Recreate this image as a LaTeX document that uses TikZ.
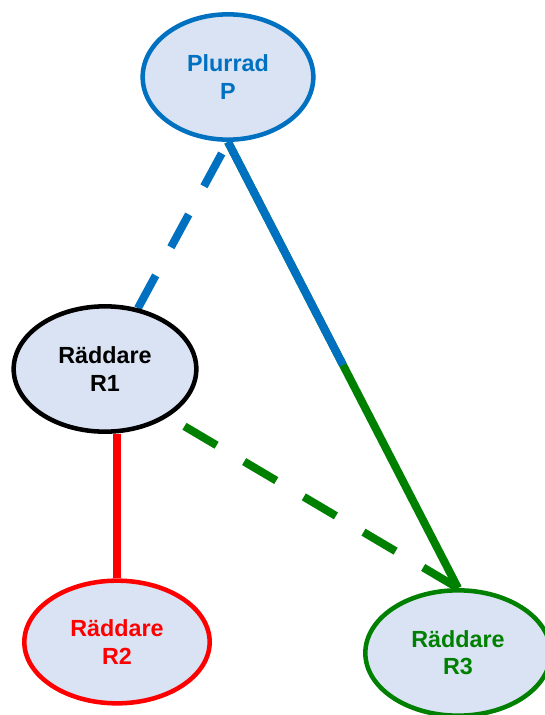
\documentclass[tikz,border=0pt]{standalone}
\usepackage{fontspec}
\setmainfont{Liberation Sans}
\usepackage{xcolor}
\usepackage{tikz}
\usetikzlibrary{shapes.geometric,backgrounds}

\definecolor{pblue}{HTML}{0070C0}
\definecolor{rgreen}{HTML}{008000}
\definecolor{boxfill}{HTML}{DAE3F3}

\begin{document}
\begin{tikzpicture}[x=0.75pt,y=-0.75pt,
            person/.style={ellipse, draw=#1, text=#1, line width=3.4pt, fill=boxfill, inner sep=0pt, align=center,
                font=\fontsize{17.5}{20.5}\selectfont\bfseries, minimum width=139pt, minimum height=94pt},
            link/.style={line width=6pt, draw=#1},
            dashlink/.style={link=#1, dash pattern=on 28pt off 24pt}
        ]

        \useasboundingbox (0,0) rectangle (544,715);

        \node[person=pblue, minimum width=128pt] (plurrad) at (228,77) {Plurrad\\P};
        \node[person=black, minimum width=137pt] (r1) at (105,369) {Räddare\\R1};
        \node[person=red, minimum height=92pt] (r2) at (117,642) {Räddare\\R2};
        \node[person=rgreen] (r3) at (458,653) {Räddare\\R3};

        \begin{scope}[on background layer]
            \draw[link=rgreen] (plurrad.south) -- coordinate[pos=0.5] (half) (r3.north);
            \draw[link=pblue] (plurrad.south) -- (half);
            \draw[dashlink=pblue] (r1) -- (plurrad.south);
            \draw[dashlink=rgreen, shorten <=14pt] (r1.-37) -- (r3.north);
            \draw[link=red] (r2.north |- r1.south) -- (r2.north);
        \end{scope}

    \end{tikzpicture}
\end{document}
